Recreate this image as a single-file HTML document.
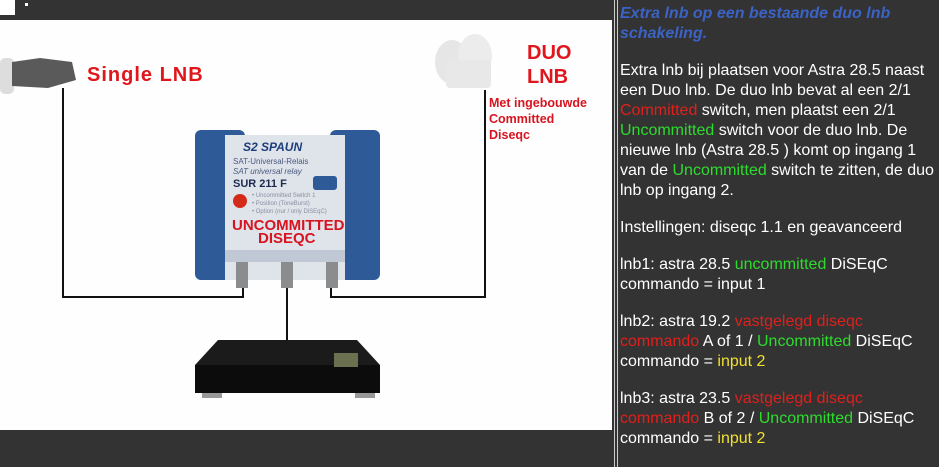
<!DOCTYPE html>
<html><head><style>
body{margin:0;width:939px;height:467px;background:#333;overflow:hidden;font-family:"Liberation Sans",Arial,sans-serif;position:relative}
.w{position:absolute;left:0;top:20px;width:612px;height:410px;background:#fefefe}
.vl{position:absolute;top:0;height:467px;width:1px;background:#ccc}
.t{position:absolute;left:620px;top:4px;width:320px;color:#fff;font-size:16px;line-height:20px}
.t p{margin:0 0 17px 0}
.h{color:#3b63c6;font-weight:bold;font-style:italic}
.r{color:#e0201c}.g{color:#2ddc2d}.y{color:#f0e030}
</style></head><body>
<div style="position:absolute;left:0;top:0;width:15px;height:15px;background:#fff"></div>
<div style="position:absolute;left:25px;top:3px;width:3px;height:3px;background:#fff"></div>
<div class="w"></div>
<svg style="position:absolute;left:0;top:0" width="612" height="467">
<g stroke="#111" stroke-width="2" fill="none">
<path d="M63 88V297H243V285"/><path d="M485 90V297H331V285"/><path d="M287 285V342"/>
</g>
<rect x="0" y="58" width="14" height="36" rx="5" fill="#ddd"/>
<path d="M12 62 L40 58 L72 62 L76 80 L48 88 L12 86Z" fill="#5a5a5a"/>
<text x="87" y="81" fill="#e0161c" font-weight="bold" font-size="20" letter-spacing="1" font-family="Liberation Sans">Single LNB</text>
<ellipse cx="452" cy="62" rx="17" ry="22" fill="#e6e6e6"/>
<ellipse cx="475" cy="56" rx="17" ry="22" fill="#ececec"/>
<rect x="446" y="60" width="45" height="28" rx="4" fill="#e8e8e8"/>
<text x="527" y="59" fill="#e0161c" font-weight="bold" font-size="20">DUO</text>
<text x="527" y="83" fill="#e0161c" font-weight="bold" font-size="20">LNB</text>
<g fill="#d81420" font-weight="bold" font-size="12.5"><text x="489" y="107">Met ingebouwde</text><text x="489" y="123">Committed</text><text x="489" y="139">Diseqc</text></g>
<rect x="195" y="130" width="50" height="150" rx="6" fill="#2e5b97"/>
<rect x="330" y="130" width="50" height="150" rx="6" fill="#2e5b97"/>
<rect x="225" y="135" width="120" height="145" fill="#dfe3ea"/>
<rect x="225" y="250" width="120" height="12" fill="#c0c8d6"/>
<text x="243" y="151" fill="#1e3e7a" font-weight="bold" font-style="italic" font-size="12">S2 SPAUN</text>
<g fill="#4a5a80" font-size="8"><text x="233" y="164">SAT-Universal-Relais</text><text x="233" y="174" font-style="italic">SAT universal relay</text></g>
<text x="233" y="187" fill="#1e2a50" font-weight="bold" font-size="11">SUR 211 F</text>
<rect x="313" y="176" width="24" height="14" rx="3" fill="#2e5b97"/>
<circle cx="240" cy="201" r="7" fill="#d42a1a"/>
<g fill="#8890a0" font-size="6"><text x="252" y="197">• Uncommitted Switch 1</text><text x="252" y="205">• Position (ToneBurst)</text><text x="252" y="213">• Option (nur / only DiSEqC)</text></g>
<g fill="#d81420" font-weight="bold" font-size="15"><text x="232" y="230">UNCOMMITTED</text><text x="258" y="243">DISEQC</text></g>
<g fill="#8a8c8e"><rect x="236" y="262" width="12" height="26"/><rect x="281" y="262" width="12" height="26"/><rect x="326" y="262" width="12" height="26"/></g>
<path d="M218 340 L357 340 L380 365 L380 393 L195 393 L195 365Z" fill="#1b1b1b"/>
<rect x="195" y="365" width="185" height="28" fill="#0c0c0c"/>
<rect x="334" y="353" width="24" height="14" fill="#6a7050"/>
<rect x="202" y="393" width="20" height="5" fill="#999"/><rect x="355" y="393" width="20" height="5" fill="#999"/>
</svg>
<div class="vl" style="left:614px"></div><div class="vl" style="left:617px"></div>
<div class="t">
<p class="h">Extra lnb op een bestaande duo lnb schakeling.</p>
<p>Extra lnb bij plaatsen voor Astra 28.5 naast een Duo lnb. De duo lnb bevat al een 2/1 <span class="r">Committed</span> switch, men plaatst een 2/1 <span class="g">Uncommitted</span> switch voor de duo lnb. De nieuwe lnb (Astra 28.5 ) komt op ingang 1 van de <span class="g">Uncommitted</span> switch te zitten, de duo lnb op ingang 2.</p>
<p>Instellingen: diseqc 1.1 en geavanceerd</p>
<p>lnb1: astra 28.5 <span class="g">uncommitted</span> DiSEqC commando = input 1</p>
<p>lnb2: astra 19.2 <span class="r">vastgelegd diseqc commando</span> A of 1 / <span class="g">Uncommitted</span> DiSEqC commando = <span class="y">input 2</span></p>
<p>lnb3: astra 23.5 <span class="r">vastgelegd diseqc commando</span> B of 2 / <span class="g">Uncommitted</span> DiSEqC commando = <span class="y">input 2</span></p>
</div>
</body></html>
